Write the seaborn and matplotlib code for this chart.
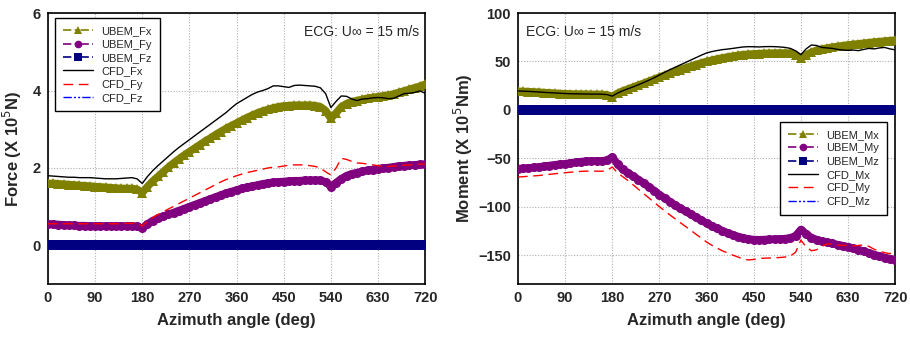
import numpy as np
import matplotlib
matplotlib.use("Agg")
import matplotlib.pyplot as plt
import seaborn as sns

# Azimuth samples (deg), shared by every series
azimuth = list(range(0, 721, 10))

# Forces (x 10^5 N)
ubem_fx = [1.60, 1.60, 1.59, 1.58, 1.57, 1.56, 1.55, 1.54, 1.53, 1.52,
           1.51, 1.50, 1.49, 1.48, 1.47, 1.47, 1.47, 1.45, 1.36, 1.52,
           1.66, 1.78, 1.90, 2.02, 2.13, 2.23, 2.33, 2.42, 2.51, 2.60,
           2.69, 2.77, 2.86, 2.94, 3.02, 3.09, 3.16, 3.23, 3.30, 3.36,
           3.42, 3.47, 3.51, 3.55, 3.58, 3.60, 3.61, 3.62, 3.62, 3.62,
           3.62, 3.61, 3.58, 3.48, 3.28, 3.42, 3.58, 3.66, 3.71, 3.74,
           3.77, 3.80, 3.82, 3.84, 3.86, 3.88, 3.91, 3.95, 3.99, 4.03,
           4.07, 4.11, 4.16]
ubem_fy = [0.55, 0.55, 0.54, 0.53, 0.52, 0.52, 0.51, 0.51, 0.50, 0.50,
           0.50, 0.50, 0.50, 0.50, 0.50, 0.50, 0.50, 0.49, 0.44, 0.55,
           0.64, 0.70, 0.75, 0.80, 0.85, 0.90, 0.95, 1.00, 1.05, 1.10,
           1.15, 1.20, 1.25, 1.30, 1.35, 1.39, 1.43, 1.47, 1.50, 1.53,
           1.56, 1.59, 1.61, 1.63, 1.64, 1.65, 1.66, 1.67, 1.67, 1.68,
           1.68, 1.68, 1.68, 1.64, 1.52, 1.62, 1.72, 1.80, 1.85, 1.88,
           1.91, 1.94, 1.96, 1.98, 2.00, 2.01, 2.03, 2.05, 2.06, 2.07,
           2.08, 2.09, 2.09]
ubem_fz = [0.0] * 73
cfd_fx = [1.80, 1.79, 1.78, 1.77, 1.76, 1.76, 1.75, 1.75, 1.75, 1.74,
          1.73, 1.72, 1.72, 1.72, 1.73, 1.74, 1.75, 1.72, 1.60, 1.78,
          1.93, 2.06, 2.18, 2.30, 2.42, 2.53, 2.63, 2.73, 2.83, 2.93,
          3.03, 3.13, 3.23, 3.33, 3.43, 3.55, 3.66, 3.74, 3.82, 3.90,
          3.96, 4.00, 4.05, 4.12, 4.12, 4.10, 4.08, 4.13, 4.14, 4.13,
          4.12, 4.11, 4.07, 3.92, 3.56, 3.72, 3.86, 3.85, 3.78, 3.74,
          3.78, 3.79, 3.81, 3.82, 3.81, 3.79, 3.80, 3.86, 3.92, 3.93,
          3.95, 3.99, 3.93]
cfd_fy = [0.56, 0.56, 0.56, 0.56, 0.56, 0.56, 0.56, 0.56, 0.56, 0.56,
          0.56, 0.56, 0.56, 0.56, 0.56, 0.57, 0.57, 0.57, 0.50, 0.62,
          0.72, 0.80, 0.87, 0.94, 1.01, 1.08, 1.15, 1.22, 1.29, 1.36,
          1.43, 1.50, 1.57, 1.64, 1.70, 1.75, 1.80, 1.84, 1.88, 1.91,
          1.94, 1.97, 2.00, 2.02, 2.03, 2.05, 2.07, 2.08, 2.08, 2.08,
          2.06, 2.04, 2.00, 1.90, 1.82, 2.00, 2.25, 2.22, 2.17, 2.13,
          2.12, 2.10, 2.08, 2.06, 2.04, 2.04, 2.05, 2.06, 2.07, 2.08,
          2.09, 2.10, 2.10]
cfd_fz = [0.0] * 19 + [-0.02] * 14 + [0.0] * 34 + [0.02] * 6

# Moments (x 10^5 Nm)
ubem_mx = [19.2, 19.0, 18.8, 18.5, 18.2, 17.8, 17.5, 17.2, 16.9, 16.6,
           16.4, 16.3, 16.2, 16.1, 16.0, 16.0, 15.9, 15.5, 13.8, 17.0,
           19.5, 21.5, 23.5, 25.5, 27.5, 29.6, 31.7, 33.8, 35.8, 37.8,
           39.7, 41.6, 43.4, 45.1, 46.8, 48.4, 50.0, 51.3, 52.5, 53.6,
           54.6, 55.5, 56.3, 57.0, 57.5, 57.8, 58.1, 58.3, 58.5, 58.6,
           58.7, 58.7, 58.5, 57.0, 53.5, 56.5, 59.5, 61.5, 62.8, 63.8,
           64.7, 65.5, 66.3, 67.0, 67.6, 68.2, 68.8, 69.4, 70.0, 70.5,
           71.0, 71.5, 72.0]
ubem_my = [-60.8, -60.5, -60.0, -59.5, -59.0, -58.3, -57.5, -56.8, -56.2, -55.7,
           -55.0, -54.2, -53.5, -53.0, -52.8, -52.8, -52.7, -52.0, -48.8, -56.0,
           -61.5, -65.0, -68.5, -72.0, -75.8, -79.6, -83.5, -87.5, -91.2, -94.8,
           -98.3, -101.6, -104.8, -108.0, -111.0, -114.0, -117.0, -119.8, -122.4, -124.8,
           -127.0, -129.0, -130.8, -132.3, -133.4, -134.0, -134.2, -134.0, -133.8, -133.6,
           -133.4, -133.0, -132.3, -130.0, -123.7, -128.0, -132.0, -134.0, -135.5, -136.8,
           -138.0, -139.2, -140.3, -141.5, -143.0, -144.5, -146.0, -147.8, -149.5, -151.0,
           -152.5, -153.8, -154.8]
ubem_mz = [0.0] * 73
cfd_mx = [19.5, 19.3, 19.1, 18.8, 18.5, 18.1, 17.8, 17.5, 17.2, 16.9,
          16.7, 16.6, 16.5, 16.4, 16.3, 16.3, 16.2, 15.8, 14.2, 17.3,
          19.8, 21.8, 23.8, 26.0, 28.3, 30.7, 33.2, 36.0, 38.8, 41.5,
          44.0, 46.5, 49.0, 51.5, 54.0, 56.5, 58.8, 60.2, 61.3, 62.2,
          62.8, 63.5, 64.3, 65.0, 65.3, 65.2, 65.0, 65.3, 65.4, 65.3,
          65.0, 64.5, 63.5, 61.0, 57.0, 63.0, 67.0, 66.5, 64.5, 64.0,
          63.5, 62.5, 61.8, 61.5, 61.8, 61.2, 62.5, 63.5, 63.0, 64.0,
          64.5, 63.0, 62.0]
cfd_my = [-69.4, -69.0, -68.6, -68.2, -67.8, -67.2, -66.6, -66.0, -65.4, -64.9,
          -64.4, -63.9, -63.5, -63.3, -63.2, -63.3, -63.4, -62.5, -59.0, -65.0,
          -69.0, -73.0, -77.5, -82.0, -86.5, -91.0, -95.5, -100.0, -104.3, -108.5,
          -112.5, -116.5, -120.5, -124.5, -128.5, -132.5, -136.5, -139.8, -142.8, -145.5,
          -147.8, -150.0, -152.0, -154.0, -155.0, -154.5, -153.5, -153.2, -153.0, -152.8,
          -152.5, -152.0, -151.0, -147.0, -134.5, -141.5, -145.5, -144.5, -141.0, -138.5,
          -138.5, -139.5, -140.0, -140.0, -140.5, -140.0, -139.5, -141.0, -144.0, -146.0,
          -147.5, -148.5, -146.5]
cfd_mz = [0.0] * 73

x_ticks = [0, 90, 180, 270, 360, 450, 540, 630, 720]
force_ticks = [0, 2, 4, 6]
moment_ticks = [-150, -100, -50, 0, 50, 100]

sns.set_theme(style="white")
plt.rcParams["font.family"] = ["Liberation Sans", "DejaVu Sans"]

OLIVE, PURPLE, NAVY = "#808000", "#800080", "#000080"
ub_dash = (0, (5, 2, 1.5, 2))
dashdotdot = (0, (6, 1.5, 1.5, 1.5, 1.5, 1.5))

fig = plt.figure(figsize=(9.1, 3.44), dpi=100)
ax1 = fig.add_axes([0.0527, 0.174, 0.4145, 0.788])
ax2 = fig.add_axes([0.5692, 0.174, 0.4145, 0.788])


def draw(ax, ubem, cfd):
    ub_style = [(OLIVE, "^"), (PURPLE, "o"), (NAVY, "s")]
    for (color, mk), (name, vals) in zip(ub_style, ubem):
        sns.lineplot(x=azimuth, y=vals, ax=ax, color=color, marker=mk,
                     markersize=6.5, markeredgewidth=0, linewidth=5.5,
                     linestyle="-", label=name, zorder=3)
    cfd_style = [("black", "-", 1.0, 4), ("#ff0000", (0, (7, 4)), 1.0, 4),
                 ("#0000ff", dashdotdot, 1.0, 2)]
    for (color, ls, lw, z), (name, vals) in zip(cfd_style, cfd):
        sns.lineplot(x=azimuth, y=vals, ax=ax, color=color, linestyle=ls,
                     linewidth=lw, label=name, zorder=z)


draw(ax1,
     [("UBEM_Fx", ubem_fx), ("UBEM_Fy", ubem_fy), ("UBEM_Fz", ubem_fz)],
     [("CFD_Fx", cfd_fx), ("CFD_Fy", cfd_fy), ("CFD_Fz", cfd_fz)])
draw(ax2,
     [("UBEM_Mx", ubem_mx), ("UBEM_My", ubem_my), ("UBEM_Mz", ubem_mz)],
     [("CFD_Mx", cfd_mx), ("CFD_My", cfd_my), ("CFD_Mz", cfd_mz)])

for ax in (ax1, ax2):
    ax.set_xlim(0, 720)
    ax.set_xticks(x_ticks)
    ax.grid(True, color="#b0b0b0", linestyle=(0, (1, 1.5)), linewidth=0.8)
    for s in ax.spines.values():
        s.set_color("black")
        s.set_linewidth(1.2)
    ax.tick_params(axis="both", direction="out", length=3, width=1,
                   color="black", labelsize=10.5, pad=2)
    for lbl in ax.get_xticklabels() + ax.get_yticklabels():
        lbl.set_fontweight("bold")
    ax.set_xlabel("Azimuth angle (deg)", fontsize=12, fontweight="bold", labelpad=6)

ax1.set_ylim(-1, 6)
ax1.set_yticks(force_ticks)
ax1.set_ylabel("Force (X 10$^5$N)", fontsize=12, fontweight="bold", labelpad=6)
ax2.set_ylim(-180, 100)
ax2.set_yticks(moment_ticks)
ax2.set_ylabel("Moment (X 10$^5$Nm)", fontsize=12, fontweight="bold", labelpad=2)

ax1.text(0.985, 0.93, "ECG: U\u221e = 15 m/s", transform=ax1.transAxes,
         ha="right", va="center", fontsize=10)
ax2.text(0.02, 0.93, "ECG: U\u221e = 15 m/s", transform=ax2.transAxes,
         ha="left", va="center", fontsize=10)

leg_kw = dict(fontsize=8, frameon=True, fancybox=False, edgecolor="black",
              framealpha=1, handlelength=2.7, handletextpad=0.7,
              labelspacing=0.3, borderpad=0.75, borderaxespad=0)
l1 = ax1.legend(loc="upper left", bbox_to_anchor=(0.019, 0.982), **leg_kw)
l2 = ax2.legend(loc="upper right", bbox_to_anchor=(0.979, 0.6), **leg_kw)
for lg in (l1, l2):
    lg.get_frame().set_linewidth(1.0)
    for i, h in enumerate(lg.legend_handles):
        if i < 3:
            h.set_markersize(5.5)
            h.set_linewidth(1.2)
            h.set_linestyle(ub_dash)

fig.savefig("out.png", dpi=100)
